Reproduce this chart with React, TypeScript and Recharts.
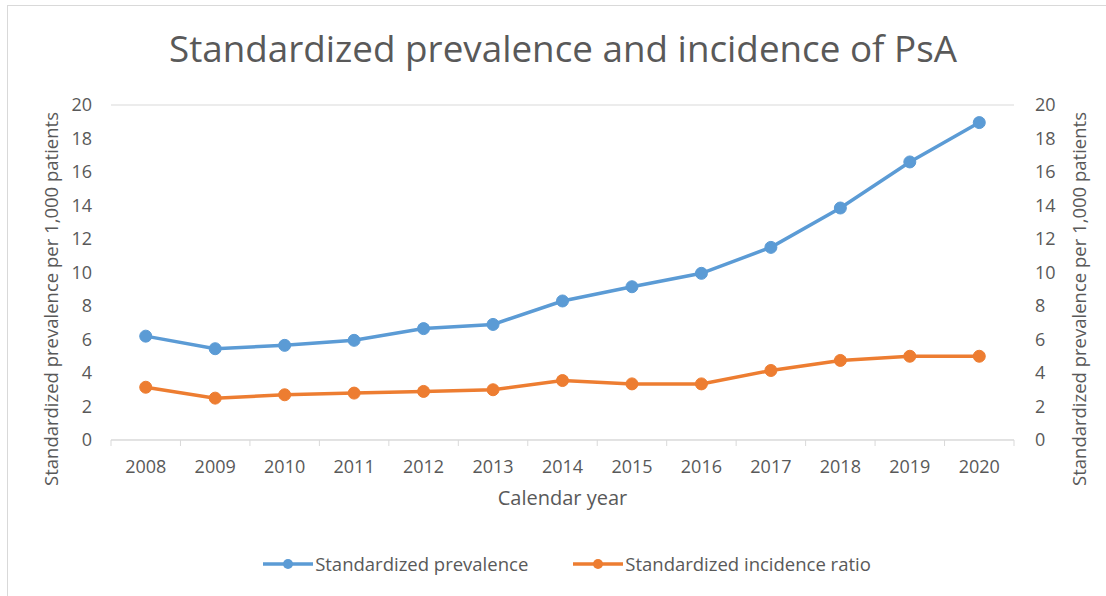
import { LineChart, Line, XAxis, YAxis, CartesianGrid, Legend } from "recharts";

const years = [2008, 2009, 2010, 2011, 2012, 2013, 2014, 2015, 2016, 2017, 2018, 2019, 2020];
const prevalence = [6.2, 5.45, 5.65, 5.95, 6.65, 6.9, 8.3, 9.15, 9.95, 11.5, 13.85, 16.6, 18.95];
const incidence = [3.15, 2.5, 2.7, 2.8, 2.9, 3.0, 3.55, 3.35, 3.35, 4.15, 4.75, 5.0, 5.0];
const yTicks = [0, 2, 4, 6, 8, 10, 12, 14, 16, 18, 20];

const data = years.map((year, i) => ({
  year,
  prevalence: prevalence[i],
  incidence: incidence[i],
}));

// tick marks sit between categories, labels on the categories
const xTicks = [
  ...years.map((y) => y - 0.5),
  years[years.length - 1] + 0.5,
  ...years,
].sort((a, b) => a - b);

const FONT = "'Open Sans', 'Liberation Sans', sans-serif";
const TEXT = "#595959";
const BLUE = "#5b9bd5";
const ORANGE = "#ed7d31";

function XTick(props: any) {
  const { x, y, payload } = props;
  const v = payload.value as number;
  if (!Number.isInteger(v)) {
    return <line x1={x} x2={x} y1={y} y2={y + 6} stroke="#d9d9d9" strokeWidth={1} />;
  }
  return (
    <text x={x} y={y + 33} textAnchor="middle" fill={TEXT} fontSize={18} fontFamily={FONT}>
      {v}
    </text>
  );
}

function SideLabel({ cx }: { cx: number }) {
  return (
    <text
      x={cx}
      y={299}
      transform={`rotate(-90 ${cx} 299)`}
      textAnchor="middle"
      dominantBaseline="central"
      fill={TEXT}
      fontSize={18.5}
      fontFamily={FONT}
    >
      Standardized prevalence per 1,000 patients
    </text>
  );
}

export default function App() {
  return (
    <div style={{ position: "absolute", left: 0, top: 0, width: 1106, height: 596, background: "#fff" }}>
      <div
        style={{
          position: "absolute",
          left: 7,
          top: 5,
          width: 1110,
          height: 600,
          border: "1px solid #d9d9d9",
        }}
      />
      <div
        style={{
          position: "absolute",
          top: 22,
          left: 10,
          width: 1106,
          textAlign: "center",
          fontFamily: FONT,
          fontSize: 36.8,
          color: TEXT,
          lineHeight: "52px",
        }}
      >
        Standardized prevalence and incidence of PsA
      </div>
      <div style={{ position: "absolute", left: 0, top: 0 }}>
        <LineChart
          width={1106}
          height={596}
          data={data}
          margin={{ top: 105, right: 0, bottom: 0, left: 0 }}
        >
          <CartesianGrid vertical={false} stroke="#d9d9d9" strokeWidth={1} />
          <XAxis
            dataKey="year"
            type="number"
            domain={[2007.5, 2020.5]}
            ticks={xTicks}
            interval={0}
            height={131}
            tickSize={0}
            tickMargin={0}
            tickLine={false}
            axisLine={{ stroke: "#d9d9d9" }}
            tick={<XTick />}
            label={{
              value: "Calendar year",
              position: "insideTop",
              offset: 51,
              fill: TEXT,
              fontSize: 20,
              fontFamily: FONT,
            }}
          />
          <YAxis
            yAxisId="left"
            width={111}
            domain={[0, 20]}
            ticks={yTicks}
            interval={0}
            axisLine={false}
            tickLine={false}
            tickSize={0}
            tickMargin={19}
            tick={{ fill: TEXT, fontSize: 18, fontFamily: FONT }}
            label={{ content: () => <SideLabel cx={50} /> }}
          />
          <YAxis
            yAxisId="right"
            orientation="right"
            width={92}
            domain={[0, 20]}
            ticks={yTicks}
            interval={0}
            axisLine={false}
            tickLine={false}
            tickSize={0}
            tickMargin={21}
            tick={{ fill: TEXT, fontSize: 18, fontFamily: FONT, textAnchor: "start" }}
            label={{ content: () => <SideLabel cx={1078} /> }}
          />
          <Legend
            verticalAlign="bottom"
            align="center"
            wrapperStyle={{ bottom: 20, fontFamily: FONT, fontSize: 18.5 }}
            content={() => (
              <div style={{ display: "flex", justifyContent: "center", gap: 45, color: TEXT, marginLeft: 28 }}>
                {[
                  { name: "Standardized prevalence", color: BLUE },
                  { name: "Standardized incidence ratio", color: ORANGE },
                ].map((s) => (
                  <div key={s.name} style={{ display: "flex", alignItems: "center" }}>
                    <svg width={50} height={14} style={{ marginRight: 2 }}>
                      <line x1={0} x2={50} y1={7} y2={7} stroke={s.color} strokeWidth={3.5} />
                      <circle cx={25} cy={7} r={5} fill={s.color} />
                    </svg>
                    <span>{s.name}</span>
                  </div>
                ))}
              </div>
            )}
          />
          <Line
            yAxisId="left"
            dataKey="prevalence"
            name="Standardized prevalence"
            stroke={BLUE}
            strokeWidth={3.5}
            dot={{ r: 6, fill: BLUE, stroke: BLUE, strokeWidth: 1 }}
            isAnimationActive={false}
          />
          <Line
            yAxisId="left"
            dataKey="incidence"
            name="Standardized incidence ratio"
            stroke={ORANGE}
            strokeWidth={3.5}
            dot={{ r: 6, fill: ORANGE, stroke: ORANGE, strokeWidth: 1 }}
            isAnimationActive={false}
          />
          {/* invisible series so the secondary axis gets drawn */}
          <Line
            yAxisId="right"
            dataKey="prevalence"
            stroke="none"
            dot={false}
            activeDot={false}
            legendType="none"
            isAnimationActive={false}
          />
        </LineChart>
      </div>
    </div>
  );
}
